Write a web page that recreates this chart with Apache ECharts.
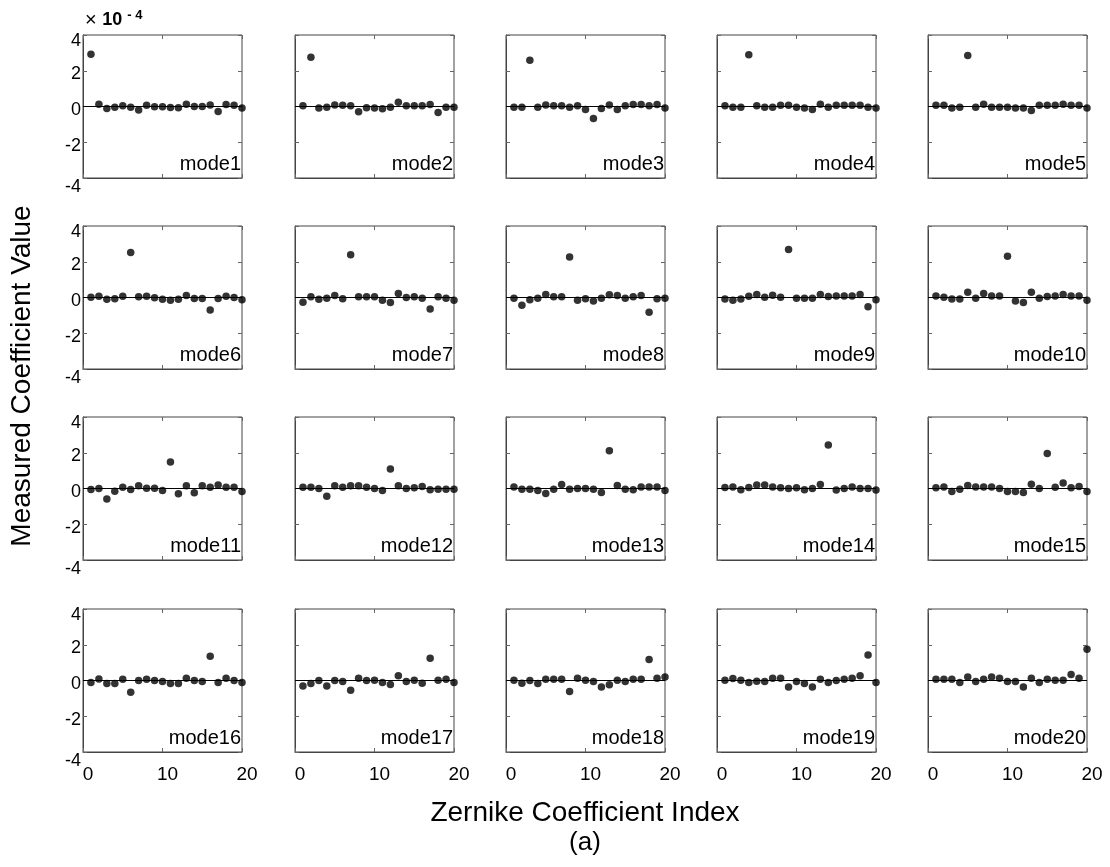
<!DOCTYPE html>
<html>
<head>
<meta charset="utf-8">
<script src="https://cdn.jsdelivr.net/npm/echarts@6/dist/echarts.min.js"></script>
<style>
html,body{margin:0;padding:0;background:#fff;}
#chart{width:1110px;height:867px;}
</style>
</head>
<body>
<div id="chart"></div>
<script>
// ---- data (values in units of 1e-4) ----
const coeffIndex = [1,2,3,4,5,6,7,8,9,10,11,12,13,14,15,16,17,18,19,20];
const xTickLabels = [0, 10, 20];
const yTickLabels = [-4, -2, 0, 2, 4];
const modeNames = ['mode1','mode2','mode3','mode4','mode5','mode6','mode7','mode8','mode9','mode10',
                   'mode11','mode12','mode13','mode14','mode15','mode16','mode17','mode18','mode19','mode20'];

const mode1  = [2.93, 0.13, -0.11, -0.04, 0.04, -0.04, -0.20, 0.07, -0.02, -0.02, -0.06, -0.07, 0.13, 0.00, 0.00, 0.09, -0.28, 0.11, 0.07, -0.09];
const mode2  = [0.04, 2.76, -0.09, -0.04, 0.09, 0.07, 0.04, -0.30, -0.07, -0.08, -0.13, -0.04, 0.24, 0.04, 0.04, 0.04, 0.11, -0.34, -0.04, -0.04];
const mode3  = [-0.04, -0.04, 2.59, -0.04, 0.09, 0.04, 0.04, -0.04, 0.04, -0.17, -0.67, -0.11, 0.09, -0.17, 0.04, 0.11, 0.11, 0.04, 0.11, -0.09];
const mode4  = [0.04, -0.04, -0.04, 2.89, 0.04, -0.04, -0.04, 0.07, 0.07, -0.04, -0.09, -0.17, 0.13, -0.04, 0.07, 0.07, 0.07, 0.07, -0.04, -0.09];
const mode5  = [0.07, 0.07, -0.09, -0.04, 2.85, -0.04, 0.13, -0.04, -0.04, -0.04, -0.09, -0.09, -0.22, 0.07, 0.07, 0.07, 0.13, 0.07, 0.07, -0.09];
const mode6  = [0.02, 0.07, -0.10, -0.07, 0.07, 2.52, 0.04, 0.07, -0.02, -0.10, -0.15, -0.10, 0.11, -0.06, -0.06, -0.70, -0.06, 0.07, 0.00, -0.13];
const mode7  = [-0.26, 0.04, -0.10, -0.04, 0.11, -0.07, 2.39, 0.04, 0.04, 0.04, -0.15, -0.28, 0.22, 0.00, 0.04, -0.04, -0.65, 0.04, -0.04, -0.15];
const mode8  = [-0.04, -0.44, -0.13, -0.04, 0.17, 0.04, 0.04, 2.26, -0.15, -0.07, -0.20, -0.04, 0.15, 0.11, -0.04, 0.04, 0.11, -0.83, -0.07, -0.04];
const mode9  = [-0.09, -0.15, -0.09, 0.07, 0.17, 0.02, 0.13, 0.02, 2.69, -0.04, -0.04, -0.04, 0.17, 0.06, 0.09, 0.09, 0.09, 0.17, -0.52, -0.13];
const mode10 = [0.09, 0.02, -0.09, -0.09, 0.30, -0.04, 0.22, 0.09, 0.09, 2.31, -0.20, -0.28, 0.30, -0.04, 0.06, 0.09, 0.17, 0.09, 0.09, -0.15];
const mode11 = [-0.06, 0.00, -0.59, -0.15, 0.07, -0.06, 0.15, 0.02, 0.02, -0.11, 1.48, -0.30, 0.15, -0.24, 0.15, 0.07, 0.20, 0.07, 0.07, -0.17];
const mode12 = [0.07, 0.07, 0.00, -0.43, 0.15, 0.07, 0.15, 0.15, 0.07, 0.00, -0.11, 1.09, 0.15, 0.00, 0.04, 0.11, -0.07, -0.04, -0.04, -0.04];
const mode13 = [0.09, -0.04, -0.04, -0.11, -0.28, -0.04, 0.22, -0.04, 0.00, 0.00, -0.04, -0.22, 2.11, 0.17, -0.04, -0.07, 0.09, 0.09, 0.09, -0.11];
const mode14 = [0.06, 0.09, -0.07, 0.06, 0.19, 0.19, 0.09, 0.04, 0.00, 0.04, -0.07, 0.00, 0.22, 2.43, -0.09, 0.00, 0.09, 0.00, 0.00, -0.09];
const mode15 = [0.04, 0.09, -0.17, -0.04, 0.17, 0.09, 0.09, 0.09, 0.00, -0.17, -0.17, -0.22, 0.24, 0.00, 1.96, 0.07, 0.31, 0.04, 0.11, -0.17];
const mode16 = [-0.11, 0.09, -0.17, -0.17, 0.07, -0.66, 0.00, 0.07, 0.00, -0.06, -0.17, -0.17, 0.13, 0.00, -0.06, 1.36, -0.11, 0.13, 0.00, -0.11];
const mode17 = [-0.31, -0.17, 0.00, -0.31, 0.00, -0.06, -0.55, 0.13, 0.00, 0.02, -0.11, -0.22, 0.26, -0.06, 0.02, -0.15, 1.25, 0.02, 0.07, -0.11];
const mode18 = [0.02, -0.15, 0.00, -0.17, 0.07, 0.07, 0.07, -0.61, 0.13, 0.02, -0.06, -0.37, -0.24, 0.02, -0.06, 0.07, 0.07, 1.18, 0.13, 0.19];
const mode19 = [0.02, 0.11, 0.02, -0.11, -0.04, -0.06, 0.13, 0.13, -0.37, -0.06, -0.17, -0.37, 0.07, -0.11, 0.00, 0.07, 0.13, 0.26, 1.42, -0.11];
const mode20 = [0.07, 0.07, 0.07, -0.11, 0.19, -0.06, 0.07, 0.19, 0.13, -0.06, -0.06, -0.37, 0.13, -0.11, 0.07, 0.02, 0.02, 0.33, 0.13, 1.75];

const modes = [mode1, mode2, mode3, mode4, mode5, mode6, mode7, mode8, mode9, mode10,
               mode11, mode12, mode13, mode14, mode15, mode16, mode17, mode18, mode19, mode20];

// ---- layout ----
const colLeft = [83, 295, 506, 717, 928];
const rowTop = [35, 226, 417, 609];
const W = 159, H = 143;
const FONT = '"Liberation Sans", Arial, Helvetica, sans-serif';

const grids = [], xAxes = [], yAxes = [], series = [], graphics = [];
const tick = () => ({show: true, inside: true, length: 4, lineStyle: {color: '#666', width: 1}});
const lab = (pt) => ({fontSize: 18, fontFamily: FONT, color: '#000', padding: [pt, 0, 0, 0]});

for (let k = 0; k < 20; k++) {
  const r = Math.floor(k / 5), c = k % 5;
  grids.push({left: colLeft[c], top: rowTop[r], width: W, height: H,
    show: true, borderColor: '#444', borderWidth: 1, backgroundColor: 'transparent'});
  const gi = k;
  const bottomRow = (r === 3), firstCol = (c === 0);
  xAxes.push({type: 'value', gridIndex: gi, min: 0, max: 20, interval: 10, position: 'bottom',
    axisLine: {show: true, onZero: false, lineStyle: {color: '#444'}},
    axisTick: tick(), splitLine: {show: false},
    axisLabel: {show: bottomRow, fontSize: 19, color: '#000', fontFamily: FONT, margin: 13,
      padding: [0, 0, 0, 10],
      formatter: v => xTickLabels.includes(v) ? String(v) : ''}});
  xAxes.push({type: 'value', gridIndex: gi, min: 0, max: 20, interval: 10, position: 'top',
    axisLine: {show: false, onZero: false}, axisTick: tick(), splitLine: {show: false}, axisLabel: {show: false}});
  yAxes.push({type: 'value', gridIndex: gi, min: -4, max: 4, interval: 2, position: 'left',
    axisLine: {show: true, onZero: false, lineStyle: {color: '#444'}},
    axisTick: tick(), splitLine: {show: false},
    axisLabel: {show: firstCol, fontSize: 18, color: '#000', fontFamily: FONT, margin: 2,
      formatter: v => !yTickLabels.includes(v) ? '' :
        (v === 4 ? '{t|4}' : v === -4 ? '{b|-4}' : '{n|' + v + '}'),
      rich: {t: lab(12), b: lab(18), n: lab(7)}}});
  yAxes.push({type: 'value', gridIndex: gi, min: -4, max: 4, interval: 2, position: 'right',
    axisLine: {show: false, onZero: false}, axisTick: tick(), splitLine: {show: false}, axisLabel: {show: false}});

  series.push({
    type: 'scatter', xAxisIndex: 2 * k, yAxisIndex: 2 * k,
    symbol: 'circle', symbolSize: 7.5,
    itemStyle: {color: '#000'},
    data: coeffIndex.map((x, i) => [x, modes[k][i]]),
    markLine: {silent: true, symbol: 'none', animation: false,
      label: {show: false},
      lineStyle: {color: '#000', width: 1, type: 'solid'},
      data: [{yAxis: 0}]},
    z: 3
  });

  graphics.push({type: 'text', right: 1110 - (colLeft[c] + W) + 1, top: rowTop[r] + H - 24,
    style: {text: modeNames[k], font: '20px ' + FONT, fill: '#000'}});
}

graphics.push({type: 'text', left: 85, top: 9,
  style: {rich: {
      a: {font: '20px ' + FONT, fill: '#000'},
      b: {font: 'bold 18px ' + FONT, fill: '#000'},
      s: {font: 'bold 13px ' + FONT, fill: '#000', padding: [0, 0, 10, 0]}},
    text: '{a|\u00d7 }{b|10 }{s|- 4}'}});

graphics.push({type: 'text', x: 22, y: 376, rotation: Math.PI / 2,
  style: {text: 'Measured Coefficient Value', font: '28px ' + FONT, fill: '#000',
    textAlign: 'center', textVerticalAlign: 'middle'}});
graphics.push({type: 'text', x: 585, y: 813,
  style: {text: 'Zernike Coefficient Index', font: '28px ' + FONT, fill: '#000',
    textAlign: 'center', textVerticalAlign: 'middle'}});
graphics.push({type: 'text', x: 585, y: 843,
  style: {text: '(a)', font: '26px ' + FONT, fill: '#000',
    textAlign: 'center', textVerticalAlign: 'middle'}});

const chart = echarts.init(document.getElementById('chart'), null, {renderer: 'canvas'});
chart.setOption({
  animation: false,
  backgroundColor: '#fff',
  grid: grids, xAxis: xAxes, yAxis: yAxes, series: series, graphic: graphics
});
</script>
</body>
</html>
